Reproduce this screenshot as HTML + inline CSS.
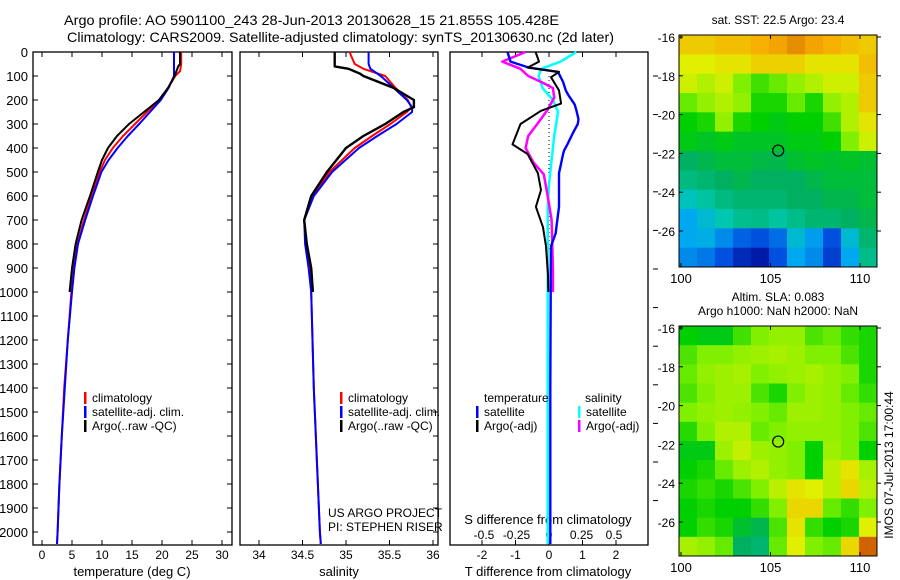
<!DOCTYPE html>
<html><head><meta charset="utf-8"><style>
body{margin:0;background:#fff;}
svg{display:block;font-family:"Liberation Sans",sans-serif;}
text{fill:#000;}
</style></head><body>
<svg id="chart" width="900" height="580" viewBox="0 0 900 580" xmlns="http://www.w3.org/2000/svg">
<text x="64" y="25" font-size="14" textLength="495" lengthAdjust="spacingAndGlyphs">Argo profile: AO 5901100_243 28-Jun-2013 20130628_15 21.855S 105.428E</text>
<text x="67" y="42" font-size="14" textLength="547" lengthAdjust="spacingAndGlyphs">Climatology: CARS2009. Satellite-adjusted climatology: synTS_20130630.nc (2d later)</text>
<g id="g"></g>
</svg>
<script>
// ---- depth grids ----
const depthsT = [0,50,80,100,150,200,250,300,350,400,450,500,600,700,800,900,1000,1200,1400,1600,1800,2000,2050];
const tempClim = [23.2,23.2,23.0,22.2,21.0,19.5,17.5,15.5,13.5,11.8,10.5,9.6,8.3,7.0,5.9,5.3,4.9,4.3,3.7,3.3,2.9,2.6,2.5];
const tempSat  = [22.0,22.0,22.0,22.0,21.1,19.8,18.0,16.2,14.3,12.6,11.1,9.9,8.5,7.2,6.0,5.4,5.0,4.3,3.8,3.3,2.9,2.6,2.5];
const depthsA = [0,50,60,100,150,200,250,300,350,400,450,500,600,700,800,900,1000];
const tempArgo = [23.0,23.0,22.7,22.1,21.0,19.5,17.0,14.5,12.5,11.0,10.0,9.3,8.0,6.6,5.6,5.0,4.6];
const depthsS = [0,50,70,100,150,200,230,250,300,350,400,500,600,700,800,900,1000,1400,2000,2050];
const salClim = [35.04,35.1,35.2,35.45,35.57,35.71,35.75,35.7,35.51,35.3,35.1,34.81,34.62,34.52,34.54,34.58,34.6,34.63,34.7,34.71];
const salSat  = [35.26,35.26,35.28,35.4,35.55,35.7,35.76,35.76,35.58,35.36,35.15,34.84,34.63,34.52,34.53,34.57,34.6,34.63,34.7,34.71];
const depthsSA = [0,60,70,90,100,150,200,230,250,300,350,400,500,600,700,800,900,1000];
const salArgo = [34.87,34.87,35.03,35.16,35.2,35.55,35.78,35.78,35.66,35.45,35.2,35.0,34.78,34.6,34.52,34.55,34.6,34.62];
// differences
const depthsD = [0,40,65,83,105,125,160,180,215,220,245,280,300,333,385,410,425,505,575,645,730,755,810,930,1000,1400,2000,2050];
const dTsat  = [-1.24,-1.15,-0.6,0.27,0.35,0.42,0.5,0.58,0.75,0.77,0.82,0.88,0.86,0.73,0.55,0.45,0.42,0.3,0.3,0.3,0.22,0.2,0.06,0.05,0.05,0.04,0.04,0.04];
const depthsDA = [0,40,65,83,105,160,215,245,300,385,425,505,575,645,730,810,930,1000];
const dTargo = [-0.4,-0.3,-0.64,0.3,0.06,0.3,0.36,-0.24,-0.85,-1.09,-0.64,-0.33,-0.24,-0.39,-0.18,-0.09,-0.03,-0.02];
const depthsSD = [0,40,70,100,125,150,190,240,300,350,400,460,510,600,700,900,1000];
const dSargo = [-0.18,-0.36,-0.22,-0.16,-0.06,0.03,0.04,-0.01,-0.09,-0.16,-0.18,-0.12,-0.04,-0.01,0.02,0.03,0.03];
const depthsSS = [0,40,70,100,150,200,250,350,450,550,650,1000,2000,2050];
const dSsat = [0.21,0.09,-0.06,-0.08,-0.05,0.03,0.07,0.04,0.02,0.0,-0.01,-0.01,-0.01,-0.01];
// tick labels
const depthTicks = [0,100,200,300,400,500,600,700,800,900,1000,1100,1200,1300,1400,1500,1600,1700,1800,1900,2000];
const tempTicks = [0,5,10,15,20,25,30];
const salTicks = [34,34.5,35,35.5,36];
const tdTicks = [-2,-1,0,1,2];
const sdTicks = [-0.5,-0.25,0,0.25,0.5];
const sdTickLabels = ['-0.5','-0.25','0','0.25','0.5'];
const lonTicks = [100,105,110];
const latTicks = [-16,-18,-20,-22,-24,-26];
// map grids (rows: north to south, cols: west to east), values 0..1 on colour scale
const sstGrid = [
[0.86,0.86,0.88,0.88,0.9,0.91,0.93,0.91,0.9,0.88,0.86],
[0.8,0.8,0.82,0.82,0.85,0.85,0.85,0.82,0.82,0.82,0.88],
[0.78,0.75,0.78,0.7,0.65,0.68,0.72,0.75,0.78,0.78,0.86],
[0.68,0.72,0.75,0.72,0.62,0.62,0.68,0.62,0.72,0.75,0.86],
[0.6,0.62,0.72,0.62,0.6,0.58,0.6,0.6,0.65,0.75,0.82],
[0.58,0.56,0.58,0.56,0.56,0.56,0.58,0.58,0.6,0.7,0.78],
[0.5,0.52,0.54,0.54,0.53,0.52,0.55,0.56,0.55,0.56,0.55],
[0.46,0.48,0.5,0.52,0.5,0.5,0.5,0.52,0.54,0.54,0.54],
[0.38,0.42,0.46,0.48,0.48,0.48,0.5,0.5,0.52,0.52,0.54],
[0.3,0.35,0.4,0.44,0.45,0.42,0.45,0.48,0.48,0.5,0.52],
[0.3,0.32,0.25,0.18,0.15,0.2,0.35,0.28,0.15,0.35,0.48],
[0.25,0.22,0.15,0.08,0.05,0.15,0.3,0.25,0.12,0.3,0.45]];
const slaGrid = [
[0.6,0.58,0.58,0.65,0.7,0.72,0.72,0.66,0.68,0.64,0.62],
[0.66,0.7,0.7,0.72,0.73,0.74,0.73,0.7,0.7,0.66,0.62],
[0.68,0.72,0.73,0.74,0.7,0.72,0.73,0.74,0.72,0.7,0.62],
[0.66,0.7,0.73,0.73,0.66,0.62,0.7,0.73,0.72,0.68,0.64],
[0.7,0.72,0.73,0.72,0.7,0.68,0.73,0.73,0.72,0.7,0.68],
[0.63,0.7,0.75,0.75,0.68,0.7,0.72,0.72,0.72,0.7,0.66],
[0.58,0.58,0.73,0.77,0.73,0.72,0.7,0.6,0.73,0.7,0.6],
[0.6,0.62,0.68,0.73,0.75,0.72,0.7,0.6,0.76,0.82,0.74],
[0.62,0.64,0.62,0.66,0.7,0.76,0.82,0.8,0.76,0.84,0.76],
[0.6,0.62,0.6,0.6,0.64,0.7,0.84,0.84,0.68,0.64,0.7],
[0.6,0.64,0.62,0.55,0.52,0.66,0.82,0.64,0.6,0.62,0.8],
[0.74,0.72,0.68,0.5,0.48,0.68,0.8,0.7,0.68,0.84,0.97]];
const floatLon = 105.428, floatLat = -21.855;

const NS="http://www.w3.org/2000/svg";
const G=document.getElementById('g');
function mk(tag,attrs,parent){const e=document.createElementNS(NS,tag);for(const k in attrs)e.setAttribute(k,attrs[k]);(parent||G).appendChild(e);return e;}
function txt(x,y,s,size,anchor){const e=mk('text',{x:x,y:y,'font-size':size||12,'text-anchor':anchor||'start'});e.textContent=s;return e;}

const PT=52, PB=545;
const yD=d=>PT+d*0.24;
const P1={x0:33,x1:232}, P2={x0:240,x1:438}, P3={x0:450,x1:648};
const xT=v=>42+v*6;
const xS=v=>259+(v-34)*87;
const xTD=v=>549+v*33.5;
const xSD=v=>549+v*130;

function frame(p,name){const r=mk('rect',{x:p.x0,y:PT,width:p.x1-p.x0,height:PB-PT,fill:'none',stroke:'#000','stroke-width':1.3});

}
frame(P1,'temperature-panel');frame(P2,'salinity-panel');frame(P3,'difference-panel');

depthTicks.forEach(d=>{const y=yD(d);
 const l=txt(28,y+5,String(d),13,'end');
 
 
 mk('line',{x1:P1.x0,y1:y,x2:P1.x0+5,y2:y,stroke:'#000'});
 mk('line',{x1:P1.x1-5,y1:y,x2:P1.x1,y2:y,stroke:'#000'});
 mk('line',{x1:P2.x1-5,y1:y,x2:P2.x1,y2:y,stroke:'#000'});
});
for(let y=76;y<535;y+=38.6){mk('line',{x1:653,y1:y,x2:658,y2:y,stroke:'#000'});}
function xticks(ticks,f,labelY,name){ticks.forEach(t=>{const x=f(t);
 mk('line',{x1:x,y1:PT,x2:x,y2:PT+5,stroke:'#000'});
 mk('line',{x1:x,y1:PB-5,x2:x,y2:PB,stroke:'#000'});
 const l=txt(x,labelY,String(t),12,'middle');
 
 });}
xticks(tempTicks,xT,559,'temperature-tick-label');
xticks(salTicks,xS,559,'salinity-tick-label');
xticks(tdTicks,xTD,559,'t-diff-tick-label');
sdTicks.forEach((t,i)=>{const l=txt(xSD(t),539,sdTickLabels[i],12,'middle');
 
 });

let e;
e=txt(132,576,'temperature (deg C)',13,'middle');
e=txt(339,576,'salinity',13,'middle');
e=txt(548,576,'T difference from climatology',13,'middle');
e=txt(548,524,'S difference from climatology',13,'middle');
e=txt(328,517,'US ARGO PROJECT',12);
e=txt(328,531,'PI: STEPHEN RISER',12);

mk('line',{x1:xTD(0),y1:yD(100),x2:xTD(0),y2:yD(820),stroke:'#000','stroke-dasharray':'1 3'});

function series(depths,vals,fx,color,w,name){let d='';
 for(let i=0;i<vals.length;i++){d+=(i?'L':'M')+fx(vals[i]).toFixed(1)+' '+yD(Math.min(depths[i],2060)).toFixed(1);}
 const p=mk('path',{d:d,fill:'none',stroke:color,'stroke-width':w,'stroke-linejoin':'round'});
 
 }
series(depthsT,tempClim,xT,'#f00',2,'temp-climatology-line');
series(depthsT,tempSat,xT,'#00f',2,'temp-satellite-line');
series(depthsA,tempArgo,xT,'#000',2,'temp-argo-line');
series(depthsS,salClim,xS,'#f00',2,'sal-climatology-line');
series(depthsS,salSat,xS,'#00f',2,'sal-satellite-line');
series(depthsSA,salArgo,xS,'#000',2.4,'sal-argo-line');
series(depthsSS,dSsat,xSD,'#0ff',2.5,'s-diff-satellite-line');
series(depthsSD,dSargo,xSD,'#f0f',2.5,'s-diff-argo-line');
series(depthsD,dTsat,xTD,'#00f',2.4,'t-diff-satellite-line');
series(depthsDA,dTargo,xTD,'#000',2,'t-diff-argo-line');

function legend(x,y,color,label){mk('rect',{x:x,y:y-10,width:2.5,height:12,fill:color});
 const l=txt(x+8,y,label,12);
 
 }
[84,340].forEach(x=>{legend(x,402,'#f00','climatology');legend(x,416,'#00f','satellite-adj. clim.');legend(x,430,'#000','Argo(..raw -QC)');});
e=txt(484,402,'temperature',12);
e=txt(585,402,'salinity',12);
legend(476,416,'#00f','satellite');legend(476,430,'#000','Argo(-adj)');
legend(578,416,'#0ff','satellite');legend(578,430,'#f0f','Argo(-adj)');

// ---- maps ----
const stops=[[0,[0,0,140]],[0.15,[0,80,224]],[0.3,[0,168,240]],[0.4,[0,200,176]],[0.5,[0,176,96]],[0.6,[0,208,0]],[0.7,[128,240,0]],[0.8,[224,240,0]],[0.9,[248,176,0]],[1,[192,64,0]]];
function cmap(v){for(let i=1;i<stops.length;i++){if(v<=stops[i][0]){const a=stops[i-1],b=stops[i],t=(v-a[0])/(b[0]-a[0]);
 return 'rgb('+a[1].map((c,k)=>Math.round(c+(b[1][k]-c)*t)).join(',')+')';}}return 'rgb(192,64,0)';}
function drawMap(grid,top,bot,name,titles){
 const L=679,R=877,rows=grid.length,cols=grid[0].length,cw=(R-L)/cols,rh=(bot-top)/rows;
 const grp=mk('g',{});
 
 
 grid.forEach((row,r)=>row.forEach((v,c)=>{const cell=mk('rect',{x:L+c*cw,y:top+r*rh,width:cw+0.5,height:rh+0.5,fill:cmap(v)},grp);
  
  }));
 mk('rect',{x:L,y:top,width:R-L,height:bot-top,fill:'none',stroke:'#000'});
 const lonX=lo=>681+(lo-100)*17.9, latY=la=>top+2+(-16-la)*19.4;
 lonTicks.forEach(lo=>{const x=lonX(lo);mk('line',{x1:x,y1:bot,x2:x,y2:bot-4,stroke:'#000'});mk('line',{x1:x,y1:top,x2:x,y2:top+4,stroke:'#000'});
  const l=txt(x,bot+16,String(lo),13,'middle');});
 latTicks.forEach(la=>{const y=latY(la);mk('line',{x1:L,y1:y,x2:L+4,y2:y,stroke:'#000'});mk('line',{x1:R,y1:y,x2:R+4,y2:y,stroke:'#000'});
  const l=txt(675,y+5,String(la),12,'end');});
 const c=mk('circle',{cx:lonX(floatLon),cy:latY(floatLat),r:5.5,fill:'none',stroke:'#000','stroke-width':1.2});
 
 
 titles.forEach((t,i)=>{const l=txt(778,top-11-(titles.length-1-i)*14,t,12,'middle');});
}
drawMap(sstGrid,35,267,'sst-map',['sat. SST: 22.5 Argo: 23.4']);
drawMap(slaGrid,326,556,'sla-map',['Altim. SLA: 0.083','Argo h1000: NaN h2000: NaN']);
e=txt(0,0,'IMOS 07-Jul-2013 17:00:44',12,'middle');
e.setAttribute('transform','translate(893,465) rotate(-90)');


</script>
</body></html>
